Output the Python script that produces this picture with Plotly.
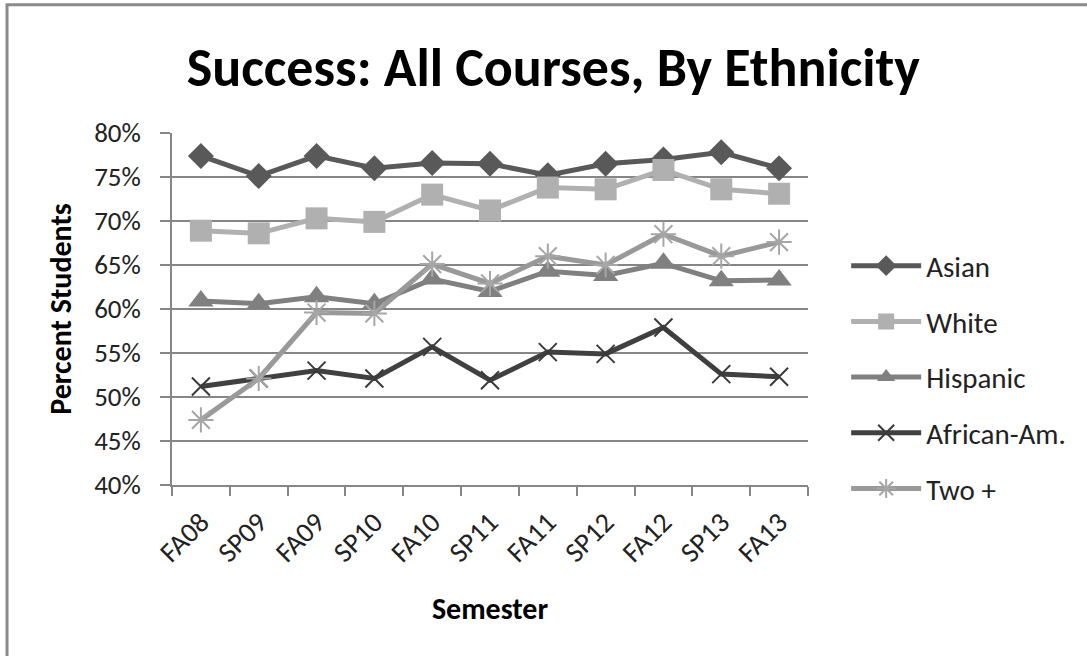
import plotly.graph_objects as go

# Semester labels along the x axis
semesters = ["FA08", "SP09", "FA09", "SP10", "FA10", "SP11",
             "FA11", "SP12", "FA12", "SP13", "FA13"]

# Course success rate (%) per ethnicity group
asian = [77.4, 75.1, 77.4, 76.0, 76.6, 76.5, 75.2, 76.5, 77.0, 77.8, 76.0]
white = [68.9, 68.6, 70.3, 69.9, 73.0, 71.2, 73.8, 73.6, 75.8, 73.6, 73.1]
hispanic = [60.9, 60.6, 61.4, 60.6, 63.4, 62.0, 64.3, 63.8, 65.2, 63.2, 63.3]
african_am = [51.2, 52.1, 53.0, 52.1, 55.7, 51.9, 55.1, 54.9, 57.9, 52.6, 52.3]
two_plus = [47.4, 52.1, 59.6, 59.5, 65.1, 62.9, 66.0, 65.0, 68.5, 66.0, 67.6]

y_ticks = [40, 45, 50, 55, 60, 65, 70, 75, 80]
y_tick_labels = ["40%", "45%", "50%", "55%", "60%", "65%", "70%", "75%", "80%"]

FONT = "Carlito, Lato, sans-serif"

series = [
    ("Asian", asian, "#595959", "#595959", "diamond", 20, 0),
    ("White", white, "#b0b0b0", "#b0b0b0", "square", 22, 0),
    ("Hispanic", hispanic, "#808080", "#808080", "triangle-up", 22, 0),
    ("African-Am.", african_am, "#404040", "#3a3a3a", "x-thin-open", 18, 2),
    ("Two +", two_plus, "#999999", "#a6a6a6", "asterisk-open", 21, 2),
]

fig = go.Figure()
for name, vals, lcol, mcol, sym, size, mlw in series:
    marker = dict(symbol=sym, size=size, color=mcol)
    if mlw:
        marker["line"] = dict(color=mcol, width=mlw)
    else:
        marker["line"] = dict(width=0)
    fig.add_trace(go.Scatter(
        x=semesters, y=vals, name=name, legendgroup=name,
        mode="lines+markers",
        line=dict(color=lcol, width=5),
        marker=marker,
        cliponaxis=False,
    ))

fig.update_layout(
    width=1087, height=656,
    margin=dict(l=172, r=279, t=133, b=171),
    paper_bgcolor="white", plot_bgcolor="white",
    font=dict(family=FONT, size=27, color="#222222"),
    title=dict(
        text="<b>Success: All Courses, By Ethnicity</b>",
        font=dict(family=FONT, size=54, color="black"),
        x=0.509, xanchor="center", y=0.898, yanchor="middle",
    ),
    xaxis=dict(
        type="category", range=[-0.5, 10.5],
        tickson="boundaries", ticks="outside", ticklen=9,
        tickcolor="#868686", tickwidth=1.5,
        showline=True, linecolor="#868686", linewidth=1.5,
        showgrid=False, tickangle=-45, ticklabelstandoff=8,
        tickfont=dict(family=FONT, size=28, color="#222222"),
        title=dict(text="<b>Semester</b>", standoff=30,
                   font=dict(family=FONT, size=30, color="black")),
    ),
    yaxis=dict(
        range=[40, 80], tickvals=y_ticks, ticktext=y_tick_labels,
        ticks="outside", ticklen=10, tickcolor="#868686", tickwidth=1.5,
        showline=True, linecolor="#868686", linewidth=1.5,
        showgrid=True, gridcolor="#868686", gridwidth=1.5,
        zeroline=False, ticklabelstandoff=14,
        tickfont=dict(family=FONT, size=27, color="#222222"),
        title=dict(text="<b>Percent Students</b>", standoff=14,
                   font=dict(family=FONT, size=30, color="black")),
    ),
    legend=dict(
        x=1.06, xanchor="left", y=0.695, yanchor="top",
        font=dict(family=FONT, size=29, color="#222222"),
        itemwidth=70, tracegroupgap=15, bgcolor="rgba(0,0,0,0)",
    ),
    showlegend=True,
)

# Chart-area frame; its right and bottom edges run past the page
fig.add_shape(type="rect", xref="paper", yref="paper",
              x0=-0.2594, x1=1.7, y0=-0.8, y1=1.3644,
              line=dict(color="#8a8a8a", width=3), layer="below")

fig.write_html("out.html")
